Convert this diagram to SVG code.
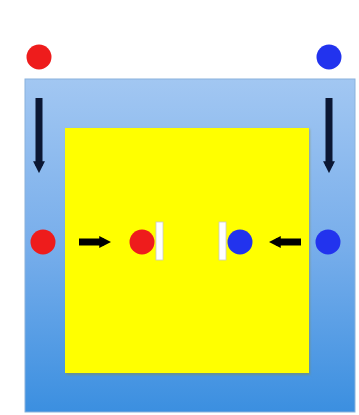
<svg xmlns="http://www.w3.org/2000/svg" width="359" height="415" viewBox="0 0 359 415">
<defs>
<linearGradient id="bg" x1="0" y1="0" x2="0" y2="1">
<stop offset="0" stop-color="#a2c7f2"/>
<stop offset="0.5" stop-color="#78aeeb"/>
<stop offset="1" stop-color="#3b8fe0"/>
</linearGradient>
<filter id="sh" x="-10%" y="-10%" width="120%" height="120%">
<feGaussianBlur stdDeviation="1.2"/>
</filter>
<marker id="ah" viewBox="0 0 10 10" refX="4" refY="5" markerWidth="1.7" markerHeight="1.7" orient="auto" markerUnits="strokeWidth">
<path d="M0,0 L10,5 L0,10 z" fill="context-stroke"/>
</marker>
</defs>
<style>
.red{fill:#ee1c1c}
.blue{fill:#2233ee}
.bar{fill:#ffffff;stroke:#c8c8c8;stroke-width:0.8}
.varr{stroke:#0b1733;stroke-width:7;fill:none}
.harr{stroke:#000000;stroke-width:7;fill:none}
</style>
<rect width="359" height="415" fill="#ffffff"/>
<g id="outer">
<rect x="25" y="79" width="330" height="333" fill="url(#bg)" stroke="#8ab2dc" stroke-width="1"/>
</g>
<g id="inner">
<rect x="66" y="129" width="244" height="246" fill="#8a8a40" opacity="0.5" filter="url(#sh)"/>
<rect x="65" y="128" width="244" height="245" fill="#ffff00"/>
</g>
<g id="red-top"><circle class="red" cx="39" cy="57" r="12.5"/></g>
<g id="blue-top"><circle class="blue" cx="329" cy="57" r="12.5"/></g>
<g id="red-left"><circle class="red" cx="43" cy="242" r="12.5"/></g>
<g id="blue-right"><circle class="blue" cx="328" cy="242" r="12.5"/></g>
<g id="red-mid"><circle class="red" cx="142" cy="242" r="12.5"/></g>
<g id="blue-mid"><circle class="blue" cx="240" cy="242" r="12.5"/></g>
<g id="bar-left"><rect class="bar" x="156" y="222" width="7" height="38"/></g>
<g id="bar-right"><rect class="bar" x="219" y="222" width="7" height="38"/></g>
<g id="connectors">
<path class="varr" d="M39,98 V166" marker-end="url(#ah)"/>
<path class="varr" d="M329,98 V166" marker-end="url(#ah)"/>
<path class="harr" d="M79,242 H104" marker-end="url(#ah)"/>
<path class="harr" d="M301,242 H276" marker-end="url(#ah)"/>
</g>
</svg>
